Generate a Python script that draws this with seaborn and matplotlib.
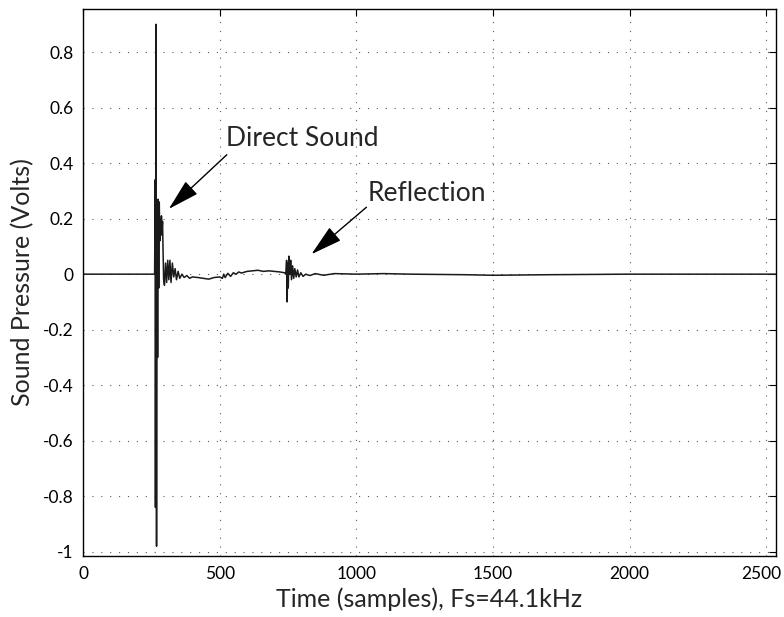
import seaborn as sns
import matplotlib.pyplot as plt
import matplotlib.transforms as mtransforms
import pandas as pd
import numpy as np

samples = [0, 262, 264, 265, 267, 269, 271, 273, 275, 277, 279, 281, 283, 285,
           287, 289, 291, 293, 295, 298, 302, 306, 310, 314, 318, 322, 327, 332,
           337, 342, 348, 354, 362, 370, 380, 390, 400, 420, 440, 460, 480, 500,
           510, 515, 520, 530, 540, 550, 560, 570, 580, 600, 620, 640, 660, 680,
           700, 720, 738, 742, 745, 747, 749, 751, 754, 757, 760, 763, 767, 771,
           775, 780, 785, 790, 797, 805, 815, 830, 850, 880, 920, 1000, 1100,
           1200, 1400, 1500, 1700, 2000, 2540]
pressure = [0.0, 0.0, 0.34, -0.84, 0.90, -0.98, 0.25, -0.30, 0.27, -0.05, 0.26,
            0.12, 0.20, 0.14, 0.21, 0.15, 0.19, 0.08, -0.02, -0.04, 0.04, -0.03,
            0.05, -0.02, 0.05, -0.03, 0.04, -0.01, 0.02, -0.02, 0.01, -0.015,
            0.0, -0.012, -0.005, -0.015, -0.01, -0.012, -0.015, -0.018, -0.012,
            -0.01, -0.015, 0.0, -0.012, 0.003, -0.008, 0.005, 0.0, 0.008, 0.004,
            0.01, 0.012, 0.014, 0.01, 0.012, 0.01, 0.008, 0.005, 0.0, 0.05,
            -0.10, 0.04, -0.05, 0.065, 0.0, 0.05, -0.02, 0.03, -0.015, 0.02,
            -0.01, 0.015, -0.01, 0.005, -0.008, 0.0, -0.005, 0.002, -0.004,
            0.002, 0.0, 0.002, 0.0, -0.002, -0.004, -0.002, 0.0, 0.0]

x_ticks = [0, 500, 1000, 1500, 2000, 2500]
y_ticks = [-1, -0.8, -0.6, -0.4, -0.2, 0, 0.2, 0.4, 0.6, 0.8]
y_labels = ['-1', '-0.8', '-0.6', '-0.4', '-0.2', '0', '0.2', '0.4', '0.6', '0.8']

sns.set_style("white")
plt.rcParams['font.family'] = ['Lato', 'DejaVu Sans']

df = pd.DataFrame({'time': samples, 'signal': pressure})

fig = plt.figure(figsize=(7.84, 6.17), dpi=100)
ax = fig.add_axes([0.1059, 0.0989, 0.8839, 0.8865])
sns.lineplot(x='time', y='signal', data=df, color='#1a1a1a', linewidth=1.1, ax=ax)

ax.set_xlim(0, 2536)
ax.set_ylim(-1.015, 0.955)
ax.set_xticks(x_ticks)
ax.set_xticklabels([str(t) for t in x_ticks])
ax.set_yticks(y_ticks)
ax.set_yticklabels(y_labels)
ax.tick_params(direction='in', length=5, width=0.8, top=True, right=True,
               labelsize=12.5, colors='k', pad=7)
ax.grid(True, linestyle=(0, (1, 7)), color='0.35', linewidth=0.8)
for s in ax.spines.values():
    s.set_color('k')
    s.set_linewidth(1.0)

# keep the last x label inside the figure edge
last = ax.get_xticklabels()[-1]
last.set_transform(last.get_transform() +
                   mtransforms.ScaledTranslation(-5 / 100, 0, fig.dpi_scale_trans))

ax.set_xlabel('Time (samples), Fs=44.1kHz', fontsize=18, labelpad=4)
ax.set_ylabel('Sound Pressure (Volts)', fontsize=18, labelpad=6)

arrow = dict(arrowstyle='-|>,head_length=1.1,head_width=0.3', color='k',
             lw=1.0, shrinkA=0, shrinkB=0, mutation_scale=18)
ax.annotate('', xy=(314, 0.235), xytext=(526, 0.43), arrowprops=arrow)
ax.text(525, 0.487, 'Direct Sound', fontsize=19, va='center', ha='left')
ax.annotate('', xy=(836, 0.072), xytext=(1037, 0.241), arrowprops=arrow)
ax.text(1040, 0.29, 'Reflection', fontsize=19, va='center', ha='left')

plt.savefig('out.png', dpi=100)
plt.close()
